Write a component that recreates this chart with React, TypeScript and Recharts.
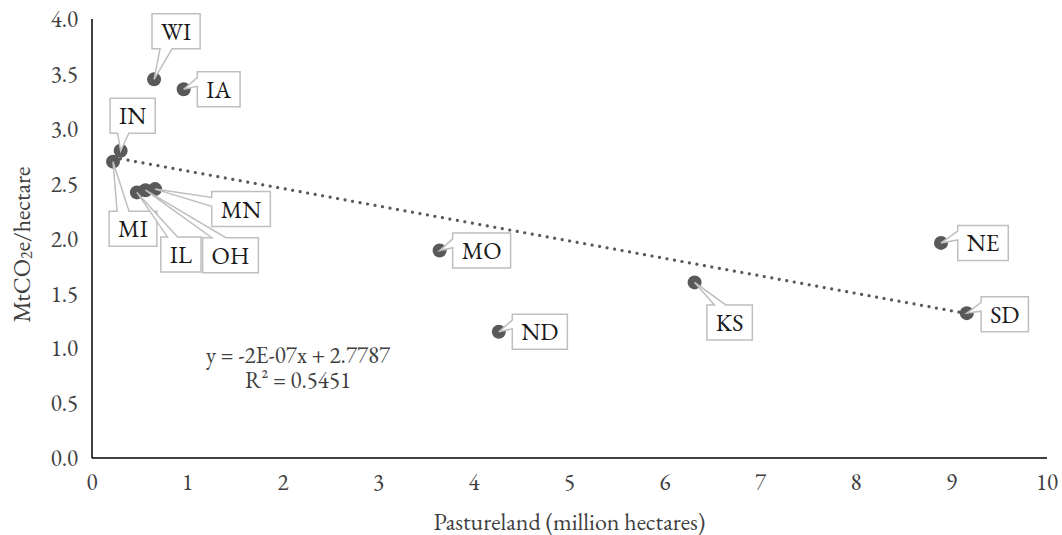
import { ReferenceLine, Scatter, ScatterChart, XAxis, YAxis } from "recharts";

const states = ["WI", "IA", "IN", "MI", "IL", "OH", "MN", "MO", "ND", "KS", "NE", "SD"];
// million hectares of pastureland
const pastureland = [0.65, 0.96, 0.3, 0.22, 0.47, 0.56, 0.66, 3.64, 4.26, 6.31, 8.89, 9.16];
// MtCO2e per hectare
const emissionsPerHectare = [3.45, 3.36, 2.8, 2.7, 2.42, 2.44, 2.45, 1.89, 1.15, 1.6, 1.96, 1.32];

const xTicks = [0, 1, 2, 3, 4, 5, 6, 7, 8, 9, 10];
const yTicks = [0, 0.5, 1, 1.5, 2, 2.5, 3, 3.5, 4];

const equationText = "y = -2E-07x + 2.7787";
const rSquaredText = "R² = 0.5451";

const FONT = '"EB Garamond", "Liberation Serif", serif';
const TEXT = "#404040";
const DOT = "#595959";

const points = states.map((state, i) => ({ state, x: pastureland[i], y: emissionsPerHectare[i] }));

// ordinary least squares, same as a linear trendline
function linearFit(xs: number[], ys: number[]) {
  const n = xs.length;
  const mx = xs.reduce((a, b) => a + b, 0) / n;
  const my = ys.reduce((a, b) => a + b, 0) / n;
  let sxy = 0;
  let sxx = 0;
  xs.forEach((x, i) => {
    sxy += (x - mx) * (ys[i] - my);
    sxx += (x - mx) * (x - mx);
  });
  const slope = sxy / sxx;
  return { slope, intercept: my - slope * mx };
}

const fit = linearFit(pastureland, emissionsPerHectare);
const xMin = Math.min(...pastureland);
const xMax = Math.max(...pastureland);
const trendSegment = [
  { x: xMin, y: fit.intercept + fit.slope * xMin },
  { x: xMax, y: fit.intercept + fit.slope * xMax },
];

// where each callout box sits (its centre), in px from its point
const calloutOffset: Record<string, [number, number]> = {
  WI: [22, -48],
  IA: [35, 0],
  IN: [12, -35],
  MI: [20, 67],
  IL: [44, 62],
  OH: [85, 65],
  MN: [86, 20],
  MO: [42, 0],
  ND: [41, 0],
  KS: [35, 40],
  NE: [42, 0],
  SD: [38, 1],
};

let measureCtx: CanvasRenderingContext2D | null = null;
function textWidth(s: string, size: number) {
  if (!measureCtx) measureCtx = document.createElement("canvas").getContext("2d");
  if (!measureCtx) return s.length * size * 0.6;
  measureCtx.font = `${size}px ${FONT}`;
  return measureCtx.measureText(s).width;
}

// rectangle with a wedge pointing at (px, py), like the wedgeRectCallout preset
function calloutPath(l: number, t: number, w: number, h: number, px: number, py: number) {
  const r = l + w;
  const b = t + h;
  const dx = px - (l + w / 2);
  const dy = py - (t + h / 2);
  const dz = Math.abs(dy) - Math.abs((dx * h) / w);
  const x1 = l + (w * (dx > 0 ? 7 : 2)) / 12;
  const x2 = l + (w * (dx > 0 ? 10 : 5)) / 12;
  const y1 = t + (h * (dy > 0 ? 7 : 2)) / 12;
  const y2 = t + (h * (dy > 0 ? 10 : 5)) / 12;
  const xl = dz > 0 ? l : dx > 0 ? l : px;
  const yl = dz > 0 ? y1 : dx > 0 ? y1 : py;
  const xt = dz > 0 ? (dy > 0 ? x1 : px) : x1;
  const yt = dz > 0 ? (dy > 0 ? t : py) : t;
  const xr = dz > 0 ? r : dx > 0 ? px : r;
  const yr = dz > 0 ? y1 : dx > 0 ? py : y1;
  const xb = dz > 0 ? (dy > 0 ? px : x1) : x1;
  const yb = dz > 0 ? (dy > 0 ? py : b) : b;
  return (
    `M${l},${t}L${x1},${t}L${xt},${yt}L${x2},${t}L${r},${t}L${r},${y1}L${xr},${yr}L${r},${y2}` +
    `L${r},${b}L${x2},${b}L${xb},${yb}L${x1},${b}L${l},${b}L${l},${y2}L${xl},${yl}L${l},${y1}Z`
  );
}

function Dot(props: any) {
  const { cx, cy } = props;
  return <circle cx={cx} cy={cy} r={7} fill={DOT} />;
}

function Callout(props: any) {
  const { cx, cy, payload } = props;
  const state: string = payload.state;
  const [ox, oy] = calloutOffset[state] ?? [40, 0];
  const w = textWidth(state, 24) + 18;
  const h = 35;
  const l = cx + ox - w / 2;
  const t = cy + oy - h / 2;
  return (
    <g>
      <path d={calloutPath(l, t, w, h, cx, cy)} fill="#ffffff" stroke="#bfbfbf" strokeWidth={1.5} />
      <text
        x={cx + ox}
        y={cy + oy}
        textAnchor="middle"
        dominantBaseline="central"
        fontFamily={FONT}
        fontSize={24}
        fill="#1a1a1a"
      >
        {state}
      </text>
    </g>
  );
}

function XTitle(props: any) {
  const { x, y, width } = props.viewBox;
  return (
    <text x={x + width / 2} y={y + 63} textAnchor="middle" dominantBaseline="central" fontFamily={FONT} fontSize={24} fill={TEXT}>
      Pastureland (million hectares)
    </text>
  );
}

function YTitle(props: any) {
  const { x, y, height } = props.viewBox;
  const tx = x + 21;
  const ty = y + height / 2 + 6;
  return (
    <text
      x={tx}
      y={ty}
      transform={`rotate(-90 ${tx} ${ty})`}
      textAnchor="middle"
      dominantBaseline="central"
      fontFamily={FONT}
      fontSize={24}
      fill={TEXT}
    >
      MtCO<tspan fontSize={16} dy={5}>2</tspan>
      <tspan dy={-5}>e/hectare</tspan>
    </text>
  );
}

export default function App() {
  return (
    <div style={{ position: "relative", width: 1062, height: 535, fontFamily: FONT }}>
      <style>{"body { margin: 0; }"}</style>
      <ScatterChart width={1062} height={535} margin={{ top: 19, right: 15, bottom: 0, left: 0 }}>
        <XAxis
          type="number"
          dataKey="x"
          domain={[0, 10]}
          ticks={xTicks}
          interval={0}
          height={77}
          axisLine={{ stroke: "#000", strokeWidth: 1.5 }}
          tickLine={false}
          tickSize={6}
          tickMargin={10}
          tick={{ fill: TEXT, fontSize: 23, fontFamily: FONT }}
          label={{ content: (p: any) => <XTitle {...p} /> }}
        />
        <YAxis
          type="number"
          dataKey="y"
          domain={[0, 4]}
          ticks={yTicks}
          interval={0}
          width={92}
          axisLine={{ stroke: "#000", strokeWidth: 1.5 }}
          tickLine={false}
          tickSize={6}
          tickMargin={8}
          tickFormatter={(v: number) => v.toFixed(1)}
          tick={{ fill: TEXT, fontSize: 23, fontFamily: FONT }}
          label={{ content: (p: any) => <YTitle {...p} /> }}
        />
        <ReferenceLine
          segment={trendSegment}
          stroke={DOT}
          strokeWidth={3.2}
          strokeDasharray="0.01 7.6"
          strokeLinecap="round"
        />
        <Scatter data={points} shape={Dot} isAnimationActive={false} />
        <Scatter data={points} shape={Callout} isAnimationActive={false} />
      </ScatterChart>
      <div
        style={{
          position: "absolute",
          left: 178,
          top: 343,
          width: 240,
          textAlign: "center",
          fontSize: 23,
          lineHeight: "25px",
          color: TEXT,
        }}
      >
        <div>{equationText}</div>
        <div>{rSquaredText}</div>
      </div>
    </div>
  );
}
